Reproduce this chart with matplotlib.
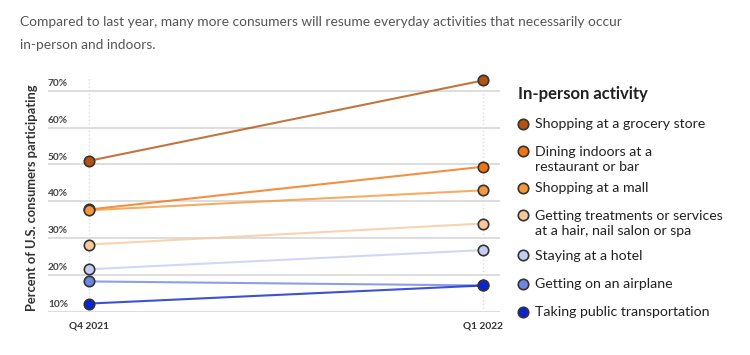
import matplotlib
matplotlib.use("Agg")
import matplotlib.pyplot as plt
from matplotlib.lines import Line2D
from matplotlib.transforms import blended_transform_factory

plt.rcParams["font.family"] = ["Lato", "DejaVu Sans"]

# --- data -------------------------------------------------------------------
periods = ["Q4 2021", "Q1 2022"]
activities = [
    "Shopping at a grocery store",
    "Dining indoors at a\nrestaurant or bar",
    "Shopping at a mall",
    "Getting treatments or services\nat a hair, nail salon or spa",
    "Staying at a hotel",
    "Getting on an airplane",
    "Taking public transportation",
]
q4_2021 = [51.0, 37.8, 37.6, 28.3, 21.6, 18.3, 12.3]
q1_2022 = [72.8, 49.4, 43.0, 34.0, 26.8, 17.2, 17.2]
colors = ["#B4530F", "#F07412", "#F5973A", "#F8C89B", "#C5CDF4", "#6E86E2", "#0B24D2"]
yticks = [10, 20, 30, 40, 50, 60, 70]

fig = plt.figure(figsize=(7.5, 3.55), dpi=100)
ax = fig.add_axes([0.064, 0.121, 0.603, 0.665])

x = list(range(len(periods)))
for i in range(len(activities)):
    ys = [q4_2021[i], q1_2022[i]]
    ax.plot(x, ys, color=colors[i], lw=1.5, alpha=0.8, zorder=3, clip_on=False)
    ax.plot(x, ys, ls="none", marker="o", ms=7.5, mfc=colors[i], mec="#333333",
            mew=1.2, zorder=4, clip_on=False)

ax.set_xlim(-0.104, 1.043)
ax.set_ylim(10, 74)
for s in ax.spines.values():
    s.set_visible(False)
ax.set_xticks([])
ax.set_yticks([])

# horizontal gridlines with labels sitting on top of them
trans = blended_transform_factory(ax.transAxes, ax.transData)
for t in yticks:
    ax.axhline(t, color="#DDDDDD", lw=1.4, zorder=1)
    ax.text(0.0, t + 0.8, f"{t}%", transform=trans, fontsize=7.3, color="#444444",
            fontweight="bold", ha="left", va="bottom")

# vertical dotted guides at each period
for xi, lab in zip(x, periods):
    ax.axvline(xi, ymin=0, ymax=1, color="#DDDDDD", lw=1, ls=":", zorder=1)
    ax.text(xi, 6.3, lab, fontsize=7.3, color="#333333", fontweight="bold",
            ha="center", va="center", clip_on=False)

fig.text(32 / 750, 1 - 198 / 355, "Percent of U.S. consumers participating", rotation=90,
         fontsize=9.3, fontweight="bold", color="#333333", ha="center", va="center")

# title
fig.text(20 / 750, 1 - 22 / 355,
         "Compared to last year, many more consumers will resume everyday activities that necessarily occur",
         fontsize=9.9, color="#555555", ha="left", va="center")
fig.text(20 / 750, 1 - 45 / 355, "in-person and indoors.",
         fontsize=9.9, color="#555555", ha="left", va="center")

# legend drawn by hand
fig.text(518 / 750, 1 - 94 / 355, "In-person activity", fontsize=12, fontweight="bold",
         color="#222222", ha="left", va="center")
legend_y = [124, 151, 188, 215, 255, 284, 312]
for lab, col, py in zip(activities, colors, legend_y):
    yf = 1 - py / 355
    fig.add_artist(Line2D([523 / 750], [yf], transform=fig.transFigure, ls="none",
                          marker="o", ms=7.5, mfc=col, mec="#333333", mew=1.2))
    fig.text(535 / 750, yf + 5.5 / 355, lab, fontsize=10.2, color="#222222",
             ha="left", va="top", linespacing=1.35)

fig.savefig("out.png", dpi=100)
